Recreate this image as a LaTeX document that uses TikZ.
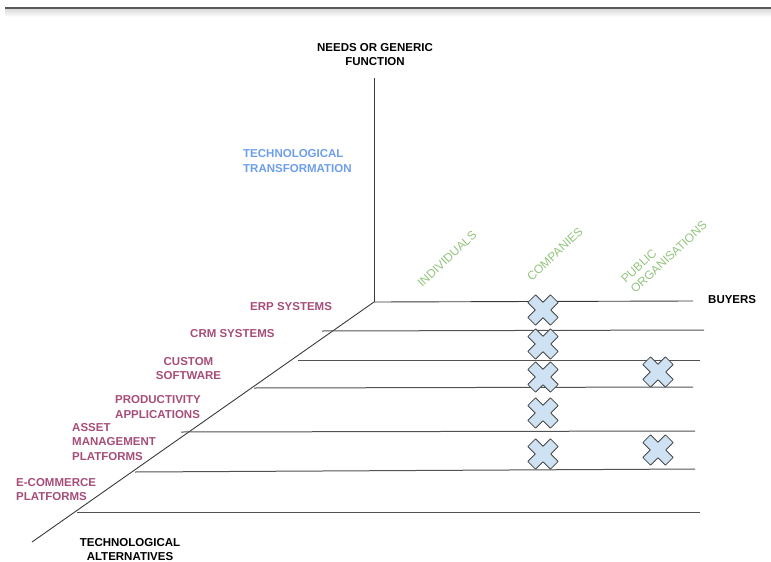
\documentclass[tikz,border=0pt]{standalone}
\usepackage{fontspec}
\setmainfont{Liberation Sans}
\definecolor{techblue}{HTML}{6D9EEB}
\definecolor{buyergreen}{HTML}{93C47D}
\definecolor{altpurple}{HTML}{A64D79}
\definecolor{markfill}{HTML}{CFE2F3}
\definecolor{axisgray}{HTML}{3A3A3A}

\begin{document}
\begin{tikzpicture}[x=1pt,y=-1pt,
  every node/.style={inner sep=0pt,font=\bfseries\fontsize{11.5}{14.5}\selectfont},
  axis/.style={draw=axisgray,line width=0.9pt},
  row/.style={draw=black!68,line width=1pt},
  alt/.style={text=altpurple,align=left,anchor=west},
  buyer/.style={text=buyergreen,rotate=43,align=left,font=\fontsize{12}{14}\selectfont},
  pics/xmark/.style={code={
    \draw[fill=markfill,draw=black!72,line width=0.8pt,line join=round,rotate=45]
      (5.5,16)--(5.5,5.5)--(16,5.5)--(16,-5.5)--(5.5,-5.5)--(5.5,-16)--(-5.5,-16)
      --(-5.5,-5.5)--(-16,-5.5)--(-16,5.5)--(-5.5,5.5)--(-5.5,16)--cycle;}}]
\useasboundingbox (0,0) rectangle (771,562);

\shade[top color=black!14,bottom color=white] (5,9) rectangle (771,17);
\draw[black!65,line width=1.4pt] (5,8) -- (771,8);

\coordinate (origin) at (374,302);
\coordinate (needs) at (374,78);
\coordinate (alts) at (32,542);
\coordinate (buyers) at (693,301);
\draw[axis] (origin) -- (needs);
\draw[axis] (origin) -- (alts);
\draw[axis] (origin) -- (buyers);

\foreach \i/\xa/\ya/\xb/\yb in {1/322/331/704/330,2/298/360/700/360,3/254/388/693/387,
    4/181/432/695/431,5/135/472/695/469,6/77/512/700/512} {
  \coordinate (row\i w) at (\xa,\ya);
  \coordinate (row\i e) at (\xb,\yb);
  \draw[row] (row\i w) -- (row\i e);
}

\node[align=center] (needslabel) at (375,54.5) {NEEDS OR GENERIC\\FUNCTION};
\node[text=techblue,align=left,anchor=west] (transform) at (243,161) {TECHNOLOGICAL\\TRANSFORMATION};
\node[align=center] (altslabel) at (130,549.5) {TECHNOLOGICAL\\ALTERNATIVES};
\node[anchor=west] (buyerslabel) at (708,300) {BUYERS};

\node[alt] (erp) at (250,307) {ERP SYSTEMS};
\node[alt] (crm) at (190,334) {CRM SYSTEMS};
\node[text=altpurple,align=center] (custom) at (188.5,368.5) {CUSTOM\\SOFTWARE};
\node[alt] (prod) at (115,407) {PRODUCTIVITY\\APPLICATIONS};
\node[alt] (asset) at (72,442) {ASSET\\MANAGEMENT\\PLATFORMS};
\node[alt] (ecom) at (16,489.5) {E-COMMERCE\\PLATFORMS};

\node[buyer] (indiv) at (447,259) {INDIVIDUALS};
\node[buyer] (comp) at (555,254) {COMPANIES};
\node[buyer] (public) at (664,252) {PUBLIC\\ORGANISATIONS};

\foreach \y [count=\k] in {310,344,377,413,454}
  \pic (compx\k) at (543,\y) {xmark};
\pic (pubx1) at (658,372) {xmark};
\pic (pubx2) at (658,450) {xmark};
\end{tikzpicture}
\end{document}
